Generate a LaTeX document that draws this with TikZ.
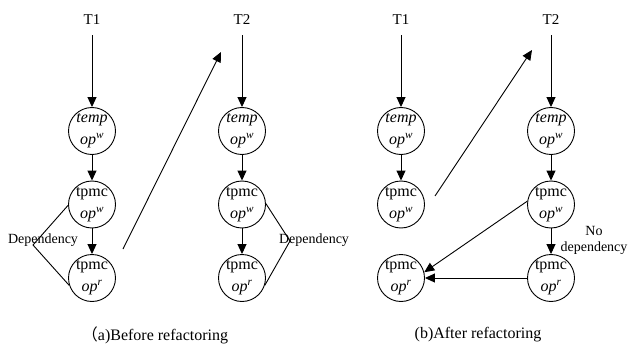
\documentclass[tikz,border=0pt]{standalone}
\usepackage{fontspec}
\setmainfont{Liberation Serif}
\newfontfamily\cjk{Noto Sans CJK SC}
\usetikzlibrary{arrows.meta}
\tikzset{
  opnode/.style={circle, draw, line width=0.9pt, minimum size=47pt, inner sep=0pt, align=center, font=\fontsize{16}{22}\selectfont},
  tlabel/.style={font=\fontsize{15}{16}\selectfont, inner sep=0pt},
  arr/.style={-{Triangle[length=10pt,width=9pt]}, line width=0.9pt},
  ln/.style={line width=0.9pt},
  dep/.style={font=\fontsize{14}{16}\selectfont, inner sep=0pt, align=center},
  captext/.style={font=\fontsize{16}{18}\selectfont, inner sep=0pt}
}
\newcommand{\opw}{\textit{op}\textsuperscript{\textit{w}}}
\newcommand{\opr}{\textit{op}\textsuperscript{\textit{r}}}
\begin{document}
\begin{tikzpicture}[x=1pt,y=-1pt]
\useasboundingbox (0,0) rectangle (629,350);
% (a)
\node[tlabel] (ta1) at (92,20) {T1};
\node[tlabel] (ta2) at (242,20) {T2};
\node[opnode] (a1) at (92,131) {\textit{temp}\\\opw};
\node[opnode] (a2) at (92,204.5) {tpmc\\\opw};
\node[opnode] (a3) at (92,278) {tpmc\\\opr};
\node[opnode] (a4) at (242,131) {\textit{temp}\\\opw};
\node[opnode] (a5) at (242,204.5) {tpmc\\\opw};
\node[opnode] (a6) at (242,278) {tpmc\\\opr};
\draw[arr, shorten <=10pt] (ta1.south) -- (a1.north);
\draw[arr, shorten <=10pt] (ta2.south) -- (a4.north);
\draw[arr] (a1) -- (a2);
\draw[arr] (a2) -- (a3);
\draw[arr] (a4) -- (a5);
\draw[arr] (a5) -- (a6);
\coordinate (da1) at (123,249);
\coordinate (da2) at (221,52);
\draw[arr] (da1) -- (da2);
\coordinate (va) at (33,245);
\draw[ln] (a2.182) -- (va) -- (a3.198);
\coordinate (vb) at (290,241);
\draw[ln] (a5.2) -- (vb) -- (a6.342);
\node[dep] (depa) at (43,240) {Dependency};
\node[dep] (depb) at (314,240) {Dependency};
% (b)
\node[tlabel] (tb1) at (401,20) {T1};
\node[tlabel] (tb2) at (551,20) {T2};
\node[opnode] (b1) at (401,131) {\textit{temp}\\\opw};
\node[opnode] (b2) at (401,204.5) {tpmc\\\opw};
\node[opnode] (b3) at (401,278) {tpmc\\\opr};
\node[opnode] (b4) at (551,131) {\textit{temp}\\\opw};
\node[opnode] (b5) at (551,204.5) {tpmc\\\opw};
\node[opnode] (b6) at (551,278) {tpmc\\\opr};
\draw[arr, shorten <=10pt] (tb1.south) -- (b1.north);
\draw[arr, shorten <=10pt] (tb2.south) -- (b4.north);
\draw[arr] (b1) -- (b2);
\draw[arr] (b4) -- (b5);
\draw[arr] (b5) -- (b6);
\coordinate (db1) at (435,196);
\coordinate (db2) at (532,50);
\draw[arr] (db1) -- (db2);
\draw[arr] (b5.172) -- (b3.14);
\draw[arr] (b6.west) -- (b3.east);
\node[dep] (nodep) at (594,240) {No\\dependency};
% captions
\node[captext] (capa) at (155,335) {{\cjk （}a)Before refactoring};
\node[captext] (capb) at (478,335) {(b)After refactoring};
\end{tikzpicture}
\end{document}
